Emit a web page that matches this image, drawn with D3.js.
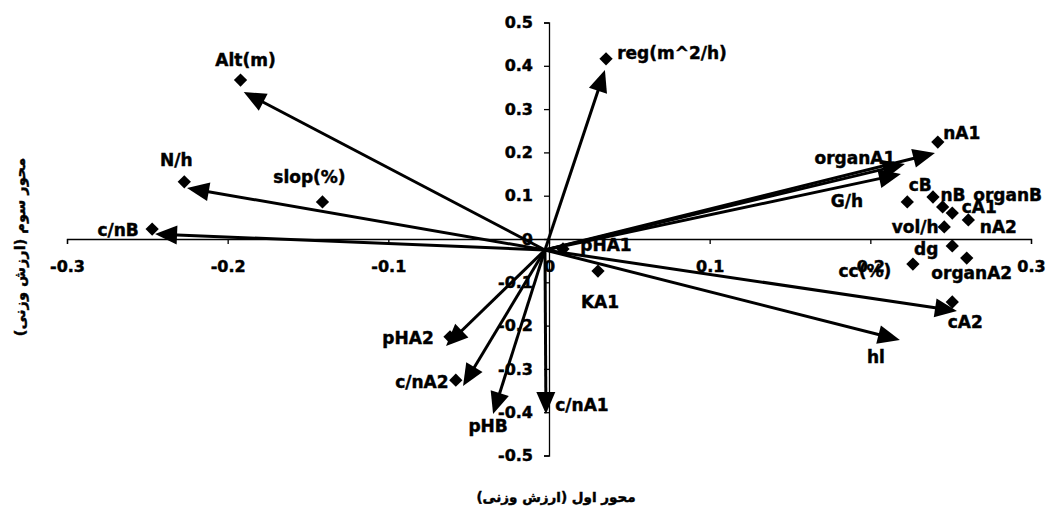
<!DOCTYPE html>
<html>
<head>
<meta charset="utf-8">
<script src="https://cdn.jsdelivr.net/npm/d3@7"></script>
<style>
  html, body { margin: 0; padding: 0; background: #fff; }
  svg { display: block; }
  text { font-family: "DejaVu Sans", sans-serif; font-weight: bold; fill: #000; stroke: #000; stroke-width: 0.45px; }
</style>
</head>
<body>
<svg id="chart" width="1052" height="514"></svg>
<script>
// Loadings of the variables on the first and third axes (diamond markers)
const pointNames = ["Alt(m)", "N/h", "slop(%)", "c/nB", "reg(m^2/h)", "nA1", "cB", "nB", "organB",
  "cA1", "nA2", "vol/h", "dg", "organA2", "cc(%)", "cA2", "KA1", "pHA1", "pHA2", "c/nA2"];
const pointPC1 = [-0.192, -0.227, -0.141, -0.247, 0.0355, 0.242, 0.223, 0.239, 0.245,
  0.251, 0.261, 0.246, 0.251, 0.260, 0.2265, 0.251, 0.0305, 0.0087, -0.0616, -0.058];
const pointPC3 = [0.367, 0.132, 0.0855, 0.023, 0.416, 0.224, 0.0855, 0.097, 0.074,
  0.060, 0.044, 0.028, -0.016, -0.044, -0.058, -0.1455, -0.074, -0.023, -0.226, -0.326];

// Vectors drawn from the common origin
const arrowNames = ["Alt(m)", "N/h", "c/nB", "reg(m^2/h)", "nA1", "organA1", "G/h",
  "cA2", "hl", "pHA2", "c/nA2", "pHB", "c/nA1"];
const arrowPC1 = [-0.190, -0.2253, -0.2452, 0.0348, 0.2402, 0.2215, 0.219,
  0.2539, 0.2184, -0.0641, -0.0535, -0.0348, -0.0019];
const arrowPC3 = [0.3395, 0.1178, 0.0115, 0.3903, 0.1986, 0.173, 0.150,
  -0.1663, -0.2333, -0.2471, -0.3395, -0.4042, -0.4042];
const arrowOrigin = [-0.0025, -0.0254];

const xTicks = [-0.3, -0.2, -0.1, 0, 0.1, 0.2, 0.3];
const yTicks = [-0.5, -0.4, -0.3, -0.2, -0.1, 0, 0.1, 0.2, 0.3, 0.4, 0.5];
const xTitle = "محور اول (ارزش وزنی)";
const yTitle = "محور سوم (ارزش وزنی)";

// Where each variable name sits: attached mark and offset of the text centre (px)
const labelLayout = {
  "Alt(m)": ["point", 5, -20], "N/h": ["point", -8, -22], "slop(%)": ["point", -13, -25],
  "c/nB": ["point", -34, 1], "reg(m^2/h)": ["point", 66, -6], "nA1": ["point", 24, -9],
  "organA1": ["arrow", -50, -6], "G/h": ["arrow", -54, 27], "cB": ["point", 13, -17],
  "nB": ["point", 20, -2], "organB": ["point", 65, -12], "cA1": ["point", 27, -6],
  "nA2": ["point", 30, 7], "vol/h": ["point", -29, 0], "dg": ["point", -26, 3],
  "organA2": ["point", 5, 15], "cc(%)": ["point", -48, 7], "cA2": ["point", 13, 20],
  "hl": ["arrow", -24, 17], "pHA1": ["point", 43, -4], "KA1": ["point", 2, 31],
  "pHA2": ["point", -42, 1], "c/nA2": ["point", -34, 2], "pHB": ["arrow", -5, 12],
  "c/nA1": ["arrow", 36, -9]
};

const svg = d3.select("#chart");
const x = d3.scaleLinear().domain([-0.3, 0.3]).range([67, 1031]);
const y = d3.scaleLinear().domain([-0.5, 0.5]).range([455.5, 22.5]);
const fmt = d => d === 0 ? "0" : (d < 0 ? "-" : "") + Math.abs(d).toFixed(1);

// Axes crossing at the origin
const xAxis = svg.append("g")
  .attr("transform", `translate(0,${y(0)})`)
  .call(d3.axisBottom(x).tickValues(xTicks).tickFormat(fmt).tickSize(5).tickSizeOuter(5).tickPadding(17));
const yAxis = svg.append("g")
  .attr("transform", `translate(${x(0)},0)`)
  .call(d3.axisLeft(y).tickValues(yTicks).tickFormat(fmt).tickSize(5).tickSizeOuter(5).tickPadding(11));
[xAxis, yAxis].forEach(g => {
  g.selectAll("path, line").attr("stroke", "#000").attr("stroke-width", 1.3);
  g.selectAll("text").attr("font-size", 16).attr("font-family", "DejaVu Sans").attr("font-weight", "bold").attr("fill", "#000");
});

// Vectors: shaft plus a filled triangular head at the tip
const ox = x(arrowOrigin[0]), oy = y(arrowOrigin[1]);
const arrows = arrowNames.map((n, i) => {
  const tx = x(arrowPC1[i]), ty = y(arrowPC3[i]);
  const L = Math.hypot(tx - ox, ty - oy);
  return { name: n, tx, ty, ux: (tx - ox) / L, uy: (ty - oy) / L };
});
svg.append("g").selectAll("line").data(arrows).join("line")
  .attr("x1", ox).attr("y1", oy)
  .attr("x2", d => d.tx - d.ux * 10)
  .attr("y2", d => d.ty - d.uy * 10)
  .attr("stroke", "#000").attr("stroke-width", 3);
svg.append("g").selectAll("path").data(arrows).join("path")
  .attr("d", d => {
    const bx = d.tx - d.ux * 22, by = d.ty - d.uy * 22;
    return `M${d.tx},${d.ty}L${bx - d.uy * 9.5},${by + d.ux * 9.5}L${bx + d.uy * 9.5},${by - d.ux * 9.5}Z`;
  })
  .attr("fill", "#000");

// Diamond markers
const points = pointNames.map((n, i) => ({ name: n, px: x(pointPC1[i]), py: y(pointPC3[i]) }));
svg.append("g").selectAll("path").data(points).join("path")
  .attr("d", d3.symbol(d3.symbolSquare, 88))
  .attr("transform", d => `translate(${d.px},${d.py}) rotate(45)`)
  .attr("fill", "#000");

// Variable names
const anchorOf = {};
points.forEach(p => anchorOf["point:" + p.name] = [p.px, p.py]);
arrows.forEach(a => anchorOf["arrow:" + a.name] = [a.tx, a.ty]);
const labels = Object.keys(labelLayout).map(n => {
  const [kind, dx, dy] = labelLayout[n];
  const a = anchorOf[kind + ":" + n];
  return { name: n, lx: a[0] + dx, ly: a[1] + dy };
});
svg.append("g").selectAll("text").data(labels).join("text")
  .attr("x", d => d.lx).attr("y", d => d.ly).attr("dy", "0.36em")
  .attr("text-anchor", "middle").attr("font-size", 17)
  .text(d => d.name);

// Axis titles
svg.append("text")
  .attr("x", 556).attr("y", 497).attr("dy", "0.35em")
  .attr("text-anchor", "middle").attr("font-size", 13.5)
  .attr("direction", "rtl").style("direction", "rtl")
  .text(xTitle);
svg.append("text")
  .attr("transform", "translate(20,247) rotate(-90)")
  .attr("dy", "0.35em")
  .attr("text-anchor", "middle").attr("font-size", 14.5)
  .attr("direction", "rtl").style("direction", "rtl")
  .text(yTitle);
</script>
</body>
</html>
